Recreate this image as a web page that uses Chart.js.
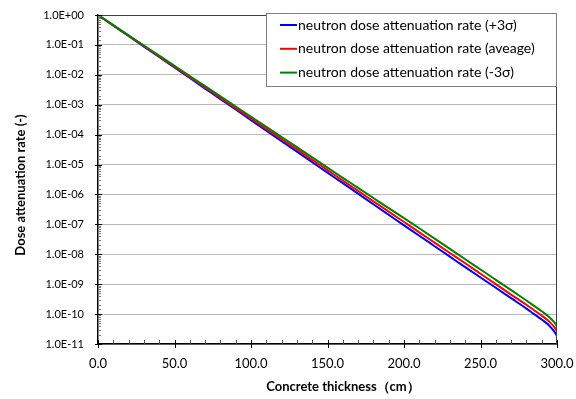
<!DOCTYPE html>
<html>
<head>
<meta charset="utf-8">
<script src="https://cdn.jsdelivr.net/npm/chart.js@4/dist/chart.umd.min.js"></script>
<style>
  html, body { margin: 0; padding: 0; background: #ffffff; }
  #wrap { width: 576px; height: 399px; }
</style>
</head>
<body>
<div id="wrap"><canvas id="chart" width="576" height="399"></canvas></div>
<script>
// Concrete thickness (cm)
const thickness = [0, 10, 20, 30, 40, 50, 60, 70, 80, 90, 100, 110, 120, 130, 140, 150,
  160, 170, 180, 190, 200, 210, 220, 230, 240, 250, 260, 270, 280, 285, 290, 295, 298, 300];

// Neutron dose attenuation rate, +3 sigma case
const plus3Sigma = [1.0, 4.45e-1, 1.98e-1, 8.8e-2, 3.93e-2, 1.75e-2, 7.8e-3, 3.47e-3, 1.54e-3,
  6.9e-4, 3.05e-4, 1.36e-4, 6.05e-5, 2.7e-5, 1.2e-5, 5.35e-6, 2.38e-6, 1.06e-6, 4.7e-7,
  2.09e-7, 9.3e-8, 4.17e-8, 1.86e-8, 8.3e-9, 3.7e-9, 1.67e-9, 7.6e-10, 3.4e-10, 1.53e-10,
  1.0e-10, 6.6e-11, 4.1e-11, 2.7e-11, 1.9e-11];

// Neutron dose attenuation rate, average case
const average = [1.0, 4.5e-1, 2.03e-1, 9.2e-2, 4.1e-2, 1.86e-2, 8.4e-3, 3.8e-3, 1.7e-3,
  7.7e-4, 3.5e-4, 1.56e-4, 7.0e-5, 3.2e-5, 1.43e-5, 6.5e-6, 2.9e-6, 1.31e-6, 5.9e-7,
  2.67e-7, 1.2e-7, 5.4e-8, 2.44e-8, 1.1e-8, 5.0e-9, 2.24e-9, 1.0e-9, 4.5e-10, 2.05e-10,
  1.35e-10, 8.9e-11, 5.6e-11, 3.8e-11, 2.7e-11];

// Neutron dose attenuation rate, -3 sigma case
const minus3Sigma = [1.0, 4.57e-1, 2.09e-1, 9.55e-2, 4.37e-2, 2.0e-2, 9.1e-3, 4.17e-3, 1.9e-3,
  8.7e-4, 3.98e-4, 1.82e-4, 8.3e-5, 3.8e-5, 1.74e-5, 7.9e-6, 3.6e-6, 1.66e-6, 7.6e-7,
  3.47e-7, 1.62e-7, 7.4e-8, 3.35e-8, 1.51e-8, 6.8e-9, 3.1e-9, 1.4e-9, 6.3e-10, 2.85e-10,
  1.88e-10, 1.24e-10, 7.9e-11, 5.5e-11, 4.0e-11];

const seriesLabels = [
  'neutron dose attenuation rate (+3σ)',
  'neutron dose attenuation rate (aveage)',
  'neutron dose attenuation rate (-3σ)'
];
const seriesColors = ['#0000ff', '#ff0000', '#008000'];

const xTitle = 'Concrete thickness（cm）';
const yTitle = 'Dose attenuation rate (-)';

const X_MIN = 0, X_MAX = 300, X_MAJOR = 50, X_MINOR = 10;
const Y_MIN = 1e-11, Y_MAX = 1;

const FONT = 'Lato, "Liberation Sans", Arial, sans-serif';

function isDecade(v) {
  const l = Math.log10(v);
  return Math.abs(l - Math.round(l)) < 1e-6;
}
function sciLabel(v) {
  const e = Math.round(Math.log10(v));
  const sign = e < 0 ? '-' : '+';
  return '1.0E' + sign + String(Math.abs(e)).padStart(2, '0');
}
function toPoints(ys) {
  return thickness.map((x, i) => ({ x: x, y: ys[i] }));
}

// Tick marks, outer frame, axis titles and the boxed legend
const decorations = {
  id: 'decorations',
  afterDraw(chart) {
    const ctx = chart.ctx;
    const a = chart.chartArea;
    const xs = chart.scales.x;
    const ys = chart.scales.y;
    ctx.save();

    // top and right frame lines
    ctx.strokeStyle = '#404040';
    ctx.lineWidth = 1;
    ctx.beginPath();
    ctx.moveTo(a.left, a.top + 0.5);
    ctx.lineTo(a.right - 0.5, a.top + 0.5);
    ctx.lineTo(a.right - 0.5, a.bottom);
    ctx.stroke();

    // y tick marks (decades and 2..9 subdivisions), drawn inward
    ys.ticks.forEach(t => {
      const py = Math.round(ys.getPixelForValue(t.value)) + 0.5;
      const major = isDecade(t.value);
      ctx.strokeStyle = major ? '#000000' : '#7a7a7a';
      ctx.beginPath();
      ctx.moveTo(a.left - (major ? 3 : 0), py);
      ctx.lineTo(a.left + (major ? 4 : 3), py);
      ctx.stroke();
    });

    // x tick marks
    for (let v = X_MIN; v <= X_MAX; v += X_MINOR) {
      const px = Math.round(xs.getPixelForValue(v)) + 0.5;
      const major = v % X_MAJOR === 0;
      ctx.strokeStyle = major ? '#000000' : '#505050';
      ctx.beginPath();
      ctx.moveTo(px, a.bottom - 4);
      ctx.lineTo(px, a.bottom + (major ? 4 : 0));
      ctx.stroke();
    }

    // axis titles
    ctx.fillStyle = '#000000';
    ctx.font = 'bold 13px ' + FONT;
    ctx.textAlign = 'center';
    ctx.textBaseline = 'middle';
    ctx.fillText(xTitle, 343, 387);
    ctx.save();
    ctx.translate(21, 185);
    ctx.rotate(-Math.PI / 2);
    ctx.fillText(yTitle, 0, 0);
    ctx.restore();

    // legend box
    const box = { left: 266.5, top: 13.5, right: 556.5, bottom: 86.5 };
    ctx.fillStyle = '#ffffff';
    ctx.fillRect(box.left, box.top, box.right - box.left, box.bottom - box.top);
    ctx.strokeStyle = '#808080';
    ctx.lineWidth = 1;
    ctx.strokeRect(box.left, box.top, box.right - box.left, box.bottom - box.top);

    ctx.font = '14px ' + FONT;
    ctx.textAlign = 'left';
    ctx.textBaseline = 'middle';
    chart.data.datasets.forEach((ds, i) => {
      const cy = 25 + i * 23.8;
      ctx.strokeStyle = ds.borderColor;
      ctx.lineWidth = 2;
      ctx.beginPath();
      ctx.moveTo(280, cy);
      ctx.lineTo(297, cy);
      ctx.stroke();
      ctx.fillStyle = '#000000';
      ctx.fillText(ds.label, 298, cy);
    });

    ctx.restore();
  }
};

const drawOrder = [2, 1, 0];   // green on top, blue underneath
const seriesValues = [plus3Sigma, average, minus3Sigma];

new Chart(document.getElementById('chart'), {
  type: 'line',
  data: {
    datasets: seriesValues.map((vals, i) => ({
      label: seriesLabels[i],
      data: toPoints(vals),
      borderColor: seriesColors[i],
      backgroundColor: seriesColors[i],
      borderWidth: 2,
      pointRadius: 0,
      fill: false,
      cubicInterpolationMode: 'monotone',
      order: drawOrder[i]
    }))
  },
  options: {
    responsive: false,
    animation: false,
    devicePixelRatio: 1,
    layout: { padding: { left: 0, top: 15, right: 19, bottom: 0 } },
    plugins: {
      legend: { display: false },
      tooltip: { enabled: false },
      title: { display: false }
    },
    scales: {
      x: {
        type: 'linear',
        min: X_MIN,
        max: X_MAX,
        afterFit(s) {
          s.height = 55;
          s.paddingLeft = 0;
          s.paddingRight = 0;
        },
        ticks: {
          stepSize: X_MAJOR,
          maxRotation: 0,
          color: '#000000',
          font: { family: FONT, size: 13 },
          padding: 12,
          callback: v => Number(v).toFixed(1)
        },
        grid: { display: false, drawTicks: false },
        border: { display: true, color: '#000000', width: 1.5 }
      },
      y: {
        type: 'logarithmic',
        min: Y_MIN,
        max: Y_MAX,
        afterFit(s) {
          s.width = 98;
          s.paddingTop = 0;
          s.paddingBottom = 0;
        },
        ticks: {
          autoSkip: false,
          color: '#000000',
          font: { family: FONT, size: 11 },
          padding: 14,
          callback: v => isDecade(v) ? sciLabel(v) : ''
        },
        grid: {
          drawTicks: false,
          lineWidth: 1,
          color: c => (c.tick && isDecade(c.tick.value)) ? '#b8b8b8' : 'rgba(0,0,0,0)'
        },
        border: { display: true, color: '#000000', width: 1.5 }
      }
    }
  },
  plugins: [decorations]
});
</script>
</body>
</html>
